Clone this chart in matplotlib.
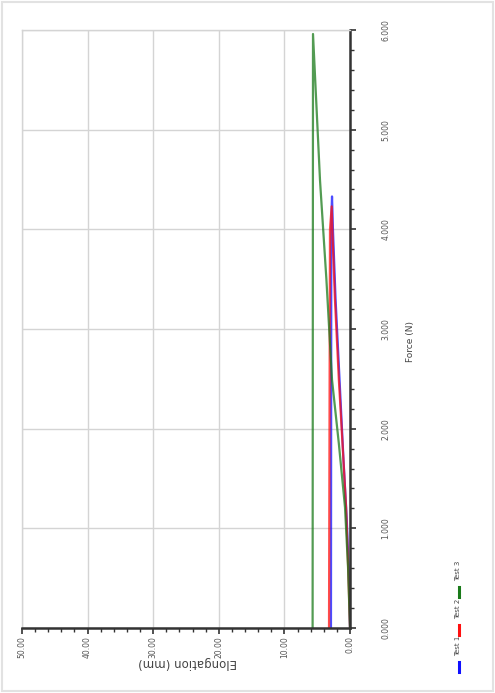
import matplotlib
matplotlib.use("Agg")
import matplotlib.pyplot as plt
from matplotlib.ticker import MultipleLocator, FormatStrFormatter
from matplotlib.lines import Line2D
from matplotlib.patches import Rectangle

# Elongation (mm) versus force for three tensile specimens
test1_elong = [0.0, 0.2, 0.5, 1.0, 1.6, 2.2, 2.6, 2.74, 2.85, 2.9]
test1_force = [0.0, 0.6, 1.1, 1.7, 2.5, 3.3, 4.0, 4.33, 4.1, 0.0]

test2_elong = [0.0, 0.25, 0.6, 1.1, 1.7, 2.3, 2.7, 2.79, 3.05, 3.2]
test2_force = [0.0, 0.55, 1.21, 1.8, 2.49, 3.3, 4.0, 4.23, 4.0, 0.0]

test3_elong = [0.0, 0.15, 0.3, 0.76, 1.7, 2.74, 3.6, 4.57, 5.64, 5.7]
test3_force = [0.0, 0.3, 0.61, 1.21, 1.85, 2.49, 3.5, 4.49, 5.96, 0.0]

series_names = ["Test 1", "Test 2", "Test 3"]
series_colors = ["#1010ff", "#ff1010", "#1a7a1a"]

force_ticks = [0, 1, 2, 3, 4, 5, 6]
elong_ticks = [0, 10, 20, 30, 40, 50]

W, H = 495, 693
fig = plt.figure(figsize=(W / 100, H / 100), dpi=100)
fig.patch.set_facecolor("white")
fig.patches.append(Rectangle((0.004, 0.003), 0.992, 0.994, transform=fig.transFigure,
                             fill=False, edgecolor="#e2e2e2", linewidth=1.5))

ax = fig.add_axes([22 / W, 1 - 628 / H, (350 - 22) / W, (628 - 30) / H])
ax.set_xlim(50, 0)
ax.set_ylim(0, 6)

for e, f, c in zip([test1_elong, test2_elong, test3_elong],
                   [test1_force, test2_force, test3_force], series_colors):
    ax.plot(e, f, color=c, linewidth=1.6, alpha=0.75, solid_joinstyle="round")

ax.xaxis.set_major_locator(MultipleLocator(10))
ax.xaxis.set_minor_locator(MultipleLocator(2))
ax.yaxis.set_major_locator(MultipleLocator(1))
ax.yaxis.set_minor_locator(MultipleLocator(0.2))
ax.xaxis.set_major_formatter(FormatStrFormatter("%.2f"))
ax.yaxis.set_major_formatter(FormatStrFormatter("%.3f"))

ax.grid(True, which="major", color="#d4d4d4", linewidth=1.0)
ax.set_axisbelow(True)

ax.yaxis.tick_right()
for side in ["left", "top"]:
    ax.spines[side].set_color("#d4d4d4")
    ax.spines[side].set_linewidth(1.0)
for side in ["right", "bottom"]:
    ax.spines[side].set_color("#333333")
    ax.spines[side].set_linewidth(1.8)

ax.tick_params(axis="both", which="both", direction="out", color="#333333",
               labelcolor="#555555")
ax.tick_params(axis="both", which="major", length=4, width=1.2, labelsize=5.5)
ax.tick_params(axis="both", which="minor", length=3, width=1.0)
ax.tick_params(axis="y", which="major", pad=22, labelrotation=90)
ax.tick_params(axis="x", which="major", pad=2, labelrotation=90)
for lbl in ax.get_yticklabels():
    lbl.set_va("center")
    lbl.set_ha("center")
for lbl in ax.get_xticklabels():
    lbl.set_va("top")
    lbl.set_ha("center")

fig.text(410 / W, 1 - 342 / H, "Force (N)", rotation=90, ha="center", va="center",
         fontsize=6.5, color="#444444")
fig.text(188 / W, 1 - 663 / H, "Elongation (mm)", rotation=180, ha="center",
         va="center", fontsize=8.5, color="#444444")

# legend laid out along the right edge
legend_y = [667, 630, 592]
for name, c, y in zip(series_names, series_colors, legend_y):
    fig.add_artist(Line2D([459 / W, 459 / W], [1 - (y + 5) / H, 1 - (y - 5) / H],
                          transform=fig.transFigure, color=c, linewidth=2.2))
    fig.text(458 / W, 1 - (y - 11) / H, name, rotation=90, ha="center", va="bottom",
             fontsize=5, color="#444444")

fig.savefig("out.png", dpi=100, facecolor="white")
